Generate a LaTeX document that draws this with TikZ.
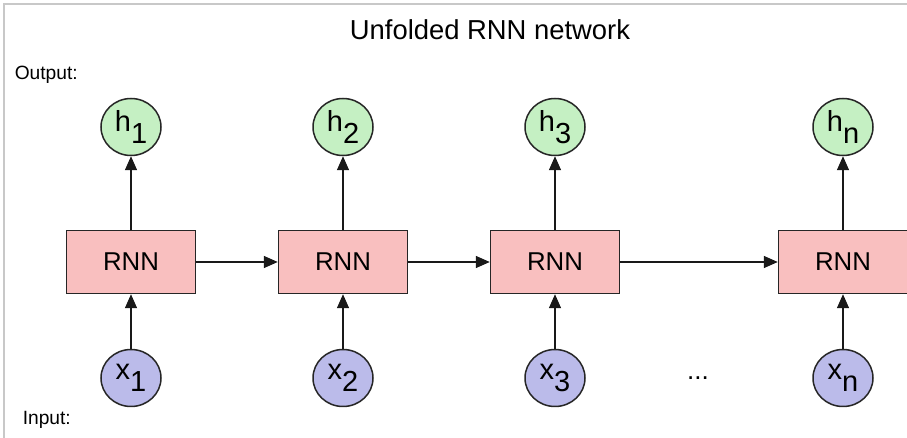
\documentclass[tikz,border=0pt]{standalone}
\usepackage{fontspec}
\setmainfont{Liberation Sans}
\usetikzlibrary{arrows.meta,shapes.geometric,positioning}

\definecolor{cellpink}{HTML}{F9BFBF}
\definecolor{outgreen}{HTML}{C5F0C3}
\definecolor{inblue}{HTML}{BBBBEA}
\definecolor{framegray}{HTML}{C8C8C8}

% subscript set at full size, just dropped below the baseline
\newcommand{\lowsub}[1]{\raisebox{-0.4em}{#1}}

\begin{document}
\begin{tikzpicture}[
  x=0.5pt, y=-0.5pt,
  line width=0.75pt,
  % one RNN cell of the unrolled chain
  cell/.style={draw=black!85,fill=cellpink,minimum width=64.5pt,minimum height=31.5pt,
               inner sep=0pt,font=\fontsize{12.9}{14}\selectfont},
  % round units for inputs and outputs
  unit/.style={ellipse,draw=black!85,minimum width=30pt,minimum height=28.5pt,
               inner sep=0pt,font=\fontsize{14.5}{16}\selectfont},
  outunit/.style={unit,fill=outgreen},
  inunit/.style={unit,fill=inblue},
  flow/.style={-{Triangle[length=7pt,width=6pt]},black!90},
  lbl/.style={anchor=west,inner sep=0pt,font=\fontsize{9.6}{11}\selectfont},
]

%--- rows --------------------------------------------------------------------
\def\yout{127}     % output units h_t
\def\ycell{262}    % RNN cells
\def\yin{378}      % input units x_t

\useasboundingbox (0,0) rectangle (907,438);
\draw[framegray,line width=1pt] (4,438) -- (4,4) -- (907,4);

%--- headings ----------------------------------------------------------------
\node[font=\fontsize{13.7}{16}\selectfont] (title) at (490,30) {Unfolded RNN network};
\node[lbl] (outlbl) at (14,75) {Output:};
\node[lbl] (inlbl) at (22,420) {Input:};

%--- one column per time step ------------------------------------------------
\foreach \x/\t in {131/1, 343/2, 555/3, 843/n} {
  \node[cell] (c\t) at (\x,\ycell) {RNN};
  \node[outunit] (h\t) at (\x,\yout) {h\lowsub{\t}};
  \node[inunit] (x\t) at (\x,\yin) {x\lowsub{\t}};
  \draw[flow] (x\t) -- (c\t);
  \draw[flow] (c\t) -- (h\t);
}

%--- hidden state passed along the chain -------------------------------------
\foreach \a/\b in {1/2, 2/3, 3/n}
  \draw[flow] (c\a) -- (c\b);

\node[font=\fontsize{13}{15}\selectfont] (dots) at (698,378) {...};

\end{tikzpicture}
\end{document}
